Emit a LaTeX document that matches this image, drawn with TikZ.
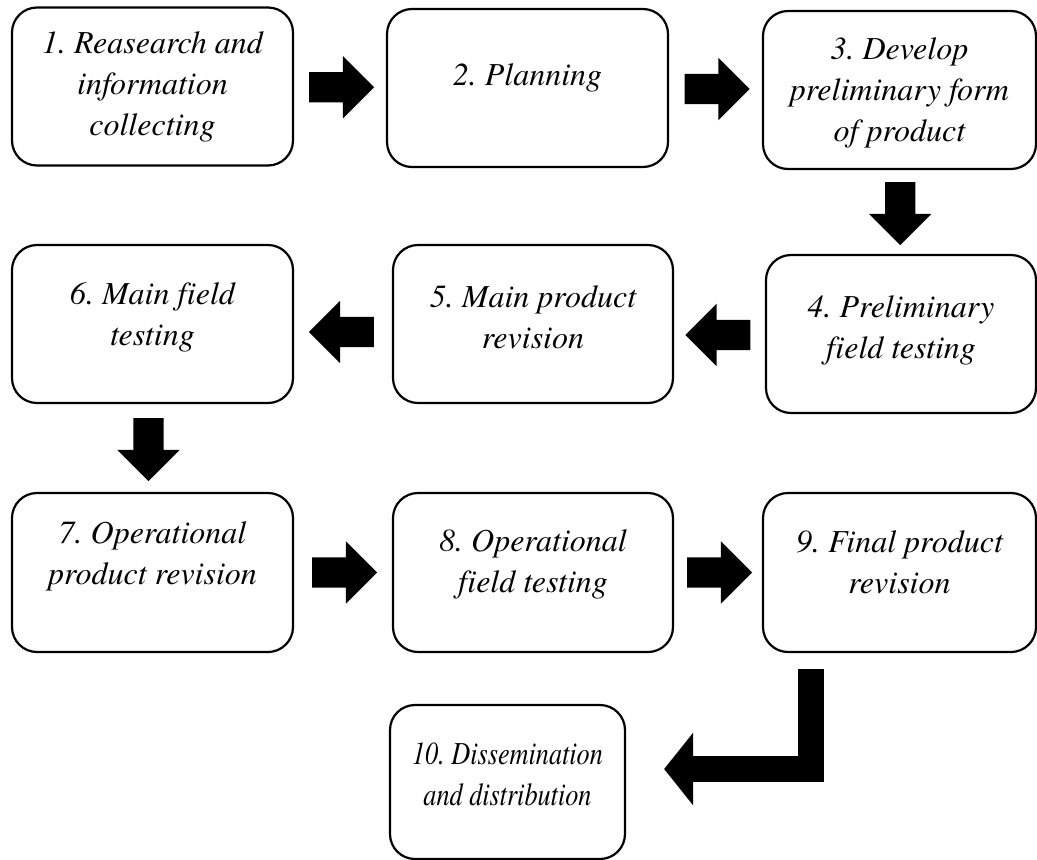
\documentclass[tikz,border=0pt]{standalone}
\usepackage{fontspec}
\setmainfont{texgyretermes-regular.otf}[ItalicFont=texgyretermes-italic.otf, Ligatures=NoCommon]
\newfontfamily\condfont{texgyretermes-regular.otf}[ItalicFont=texgyretermes-italic.otf, Ligatures=NoCommon, FakeStretch=0.82]
\usetikzlibrary{shapes.arrows, calc, arrows.meta}

\begin{document}
\frenchspacing
\begin{tikzpicture}[x=1pt, y=-1pt, line width=2.2pt,
  stepbox/.style={draw, rectangle, rounded corners=25pt, minimum width=281pt, minimum height=158pt, inner sep=0pt, align=center, font=\fontsize{32}{41}\selectfont\itshape},
  narrow/.style={minimum width=273pt},
  blockarrow/.style={single arrow, fill=black, draw=none, inner xsep=0pt, inner ysep=14pt, minimum height=65pt, single arrow head extend=16pt},
  toright/.style={blockarrow, xshift=-6pt},
  toleft/.style={blockarrow, shape border rotate=180, xshift=6pt},
  todown/.style={blockarrow, shape border rotate=270, inner xsep=14pt, inner ysep=0pt, minimum height=63pt, yshift=6pt}]
\useasboundingbox (0,0) rectangle (1037,860);

\node[stepbox] (b1) at (152.5,86.5) {1. Reasearch and\\information\\collecting};
\node[stepbox, text depth=26.7pt] (b2) at (527.5,88) {2. Planning};
\node[stepbox, narrow, text depth=0pt] (b3) at (899.5,90) {3. Develop\\preliminary form\\of product};
\node[stepbox, minimum width=270pt, text depth=14.7pt] (b4) at (901,334) {4. Preliminary\\field testing};
\node[stepbox, minimum width=280pt, text depth=14pt] (b5) at (533,324) {5. Main product\\revision};
\node[stepbox, text depth=20.7pt] (b6) at (152.5,324) {6. Main field\\testing};
\node[stepbox, minimum height=159pt, text depth=38.7pt] (b7) at (152.5,572.5) {7. Operational\\product revision};
\node[stepbox, minimum width=280pt, minimum height=159pt, text depth=22.7pt] (b8) at (533,572.5) {8. Operational\\field testing};
\node[stepbox, narrow, minimum height=159pt, text depth=20pt] (b9) at (899.5,572.5) {9. Final product\\revision};
\node[stepbox, minimum width=235pt, minimum height=154pt, text depth=16pt, font=\condfont\fontsize{32}{41}\selectfont\itshape] (b10) at (507.5,782) {10. Dissemination\\and distribution};

% block arrows between the steps
\node[toright] (a12) at ($(b1.east)!0.5!(b2.west)$) {};
\node[toright] (a23) at ($(b2.east)!0.5!(b3.west)$) {};
\node[todown] (a34) at ($(b3.south)!0.5!(b4.north)$) {};
\node[toleft, yshift=-6pt] (a45) at ($(b4.west)!0.5!(b5.east)$) {};
\node[toleft, yshift=-8pt] (a56) at ($(b5.west)!0.5!(b6.east)$) {};
\node[todown, xshift=-4pt] (a67) at ($(b6.south)!0.5!(b7.north)$) {};
\node[toright] (a78) at ($(b7.east)!0.5!(b8.west)$) {};
\node[toright] (a89) at ($(b8.east)!0.5!(b9.west)$) {};

% bent arrow 9 -> 10
\draw[line width=26pt, line join=miter, -{Triangle[length=29pt, width=71pt]}]
  ($(b9.south)+(-89,16)$) |- ($(b10.east)+(38,-13)$);

\end{tikzpicture}
\end{document}
